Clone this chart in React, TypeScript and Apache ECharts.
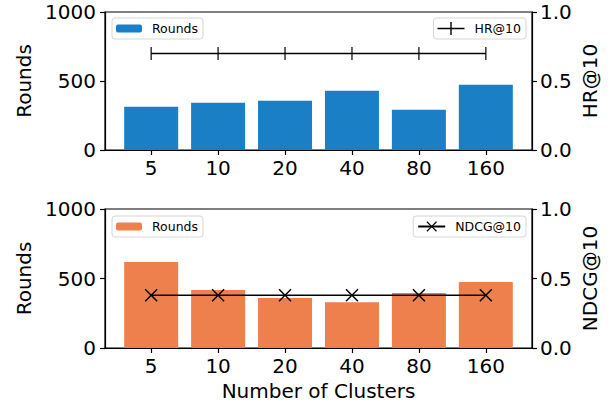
import React, { useEffect, useRef } from "react";
import * as echarts from "echarts";

const categories = ["5", "10", "20", "40", "80", "160"];
const roundsHR = [313, 342, 356, 429, 291, 472];
const hr10 = [0.70, 0.70, 0.70, 0.70, 0.70, 0.70];
const roundsNDCG = [619, 417, 359, 330, 395, 475];
const ndcg10 = [0.38, 0.38, 0.38, 0.38, 0.38, 0.38];
const leftTicks = [0, 500, 1000];
const rightTicks = [0, 0.5, 1];

const FONT = "DejaVu Sans";
const BLUE = "#1b7fc6";
const ORANGE = "#ee804d";

const PLUS_ICON =
  "path://M0,5.8 L27,5.8 L27,7.2 L0,7.2 Z M12.8,0 L14.2,0 L14.2,13 L12.8,13 Z";
const XMARK =
  "path://M0,0.8 L0.8,0 L5,4.2 L9.2,0 L10,0.8 L5.8,5 L10,9.2 L9.2,10 L5,5.8 L0.8,10 L0,9.2 L4.2,5 Z";

export default function App() {
  const ref = useRef<HTMLDivElement>(null);
  useEffect(() => {
    if (!ref.current) return;
    const chart = echarts.init(ref.current, undefined, { renderer: "svg" });
    const axisLine = { show: true, onZero: false, lineStyle: { color: "#000", width: 1.2 } };
    const axisTick = { show: true, length: 5, inside: false, lineStyle: { color: "#000", width: 1.2 } };
    const bigText = { color: "#000", fontSize: 20, fontFamily: FONT };
    const xAxis = (gi: number) => ({
      type: "value",
      gridIndex: gi,
      min: -0.69,
      max: 5.69,
      axisLine,
      axisTick: { ...axisTick, customValues: [0, 1, 2, 3, 4, 5] },
      axisLabel: {
        ...bigText,
        margin: 8,
        customValues: [0, 1, 2, 3, 4, 5],
        formatter: (v: number) => categories[Math.round(v)] ?? "",
      },
      splitLine: { show: false },
      ...(gi === 1
        ? {
            name: "Number of Clusters",
            nameLocation: "middle",
            nameGap: 33,
            nameTextStyle: bigText,
          }
        : {}),
    });
    const yLeft = (gi: number) => ({
      type: "value",
      gridIndex: gi,
      position: "left",
      min: leftTicks[0],
      max: leftTicks[leftTicks.length - 1],
      interval: 500,
      axisLine,
      axisTick,
      axisLabel: { ...bigText, margin: 9, formatter: (v: number) => String(v) },
      splitLine: { show: false },
      name: "Rounds",
      nameLocation: "middle",
      nameGap: 62,
      nameTextStyle: bigText,
    });
    const yRight = (gi: number, name: string) => ({
      type: "value",
      gridIndex: gi,
      position: "right",
      min: rightTicks[0],
      max: rightTicks[rightTicks.length - 1],
      interval: 0.5,
      axisLine,
      axisTick,
      axisLabel: { ...bigText, margin: 8, formatter: (v: number) => v.toFixed(1) },
      splitLine: { show: false },
      name,
      nameLocation: "middle",
      nameRotate: 90,
      nameGap: 48,
      nameMoveOverlap: false,
      nameTextStyle: bigText,
    });
    const legendBase = {
      orient: "horizontal",
      backgroundColor: "#fff",
      borderColor: "#d6d6d6",
      borderWidth: 1,
      borderRadius: 3,
      textStyle: { color: "#000", fontSize: 12.5, fontFamily: FONT, padding: [0, 0, 0, 5] },
      selectedMode: false,
    };
    chart.setOption({
      animation: false,
      backgroundColor: "#fff",
      grid: [
        { left: 105, top: 12, width: 427, height: 138, show: true, borderColor: "#000", borderWidth: 1.2, backgroundColor: "transparent" },
        { left: 105, top: 209, width: 427, height: 139, show: true, borderColor: "#000", borderWidth: 1.2, backgroundColor: "transparent" },
      ],
      xAxis: [xAxis(0), xAxis(1)],
      yAxis: [yLeft(0), yRight(0, "HR@10"), yLeft(1), yRight(1, "NDCG@10")],
      legend: [
        { ...legendBase, data: ["RoundsA"], left: 112, top: 18, itemWidth: 26, itemHeight: 8, padding: [4, 5, 4, 4], formatter: () => "Rounds" },
        { ...legendBase, data: [{ name: "HR@10", icon: PLUS_ICON }], right: 87, top: 18, itemWidth: 27, itemHeight: 13, padding: [4, 5, 4, 4] },
        { ...legendBase, data: ["RoundsB"], left: 112, top: 216, itemWidth: 26, itemHeight: 8, padding: [4, 5, 4, 4], formatter: () => "Rounds" },
        { ...legendBase, data: ["NDCG@10"], right: 87, top: 216, itemWidth: 27, itemHeight: 13, padding: [4, 5, 4, 4] },
      ],
      series: [
        {
          name: "RoundsA",
          type: "bar",
          xAxisIndex: 0,
          yAxisIndex: 0,
          barWidth: 54,
          itemStyle: { color: BLUE },
          data: roundsHR.map((v, i) => [i, v]),
        },
        {
          name: "HR@10",
          type: "line",
          xAxisIndex: 0,
          yAxisIndex: 1,
          symbol: "none",
          lineStyle: { color: "#000", width: 1.5 },
          itemStyle: { color: "#000" },
          z: 5,
          data: hr10.map((v, i) => [i, v]),
        },
        {
          name: "HRmarks",
          type: "scatter",
          xAxisIndex: 0,
          yAxisIndex: 1,
          symbol: "rect",
          symbolSize: [1.5, 13],
          itemStyle: { color: "#000" },
          z: 6,
          data: hr10.map((v, i) => [i, v]),
        },
        {
          name: "RoundsB",
          type: "bar",
          xAxisIndex: 1,
          yAxisIndex: 2,
          barWidth: 54,
          itemStyle: { color: ORANGE },
          data: roundsNDCG.map((v, i) => [i, v]),
        },
        {
          name: "NDCG@10",
          type: "line",
          xAxisIndex: 1,
          yAxisIndex: 3,
          symbol: XMARK,
          symbolSize: 13,
          showSymbol: true,
          lineStyle: { color: "#000", width: 1.5 },
          itemStyle: { color: "#000" },
          z: 5,
          data: ndcg10.map((v, i) => [i, v]),
        },
      ],
    });
    return () => chart.dispose();
  }, []);
  return <div ref={ref} style={{ width: 613, height: 404, position: "fixed", left: 0, top: 0 }} />;
}
